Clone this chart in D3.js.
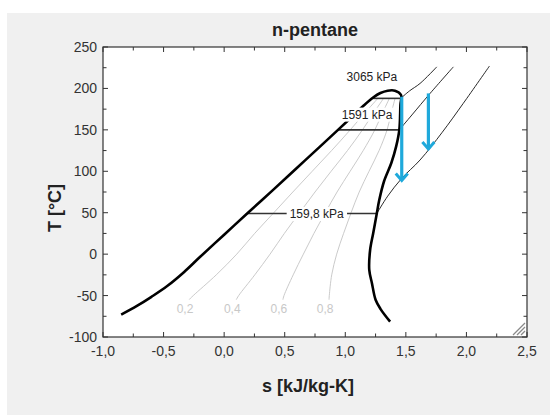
<!DOCTYPE html>
<html><head><meta charset="utf-8">
<script src="https://cdn.jsdelivr.net/npm/d3@7"></script>
<style>body{margin:0;background:#fff;} text{font-family:Arial,"Liberation Sans",sans-serif;}</style>
</head><body><svg id="c" width="550" height="415"></svg>
<script>
// ---------------- data ----------------
const title = "n-pentane";
const xLabel = "s [kJ/kg-K]";
const yLabel = "T [°C]";
const xTickValues = [-1.0, -0.5, 0.0, 0.5, 1.0, 1.5, 2.0, 2.5];
const yTickValues = [-100, -50, 0, 50, 100, 150, 200, 250];

// saturation dome
const satLiquidS = [-0.85, -0.72, -0.6, -0.47, -0.33, -0.2, 0.0, 0.19, 0.4, 0.6, 0.8, 0.94, 1.05, 1.15, 1.23, 1.29, 1.35, 1.41, 1.46];
const satLiquidT = [-73, -62.5, -51.5, -38.5, -21.5, -3.5, 23.5, 49, 77, 104, 131, 150, 165, 179, 189, 194.5, 197.3, 197.3, 192];
const satVaporS = [1.46, 1.455, 1.446, 1.42, 1.38, 1.32, 1.28, 1.26, 1.23, 1.205, 1.198, 1.22, 1.25, 1.29, 1.37];
const satVaporT = [192, 180, 150, 130, 110, 88, 65, 49, 25, 5, -19, -35, -55, -66, -81.5];

// isobars: saturation (horizontal) parts
const isobarNames = ["159,8 kPa", "1591 kPa", "3065 kPa"];
const isobarSatT = [49, 150, 188];
const isobarLiqS = [0.19, 0.94, 1.222];
const isobarVapS = [1.26, 1.446, 1.458];
// isobars: superheated parts
const isobar1598S = [1.26, 1.35, 1.466, 1.617, 1.80, 1.974, 2.19];
const isobar1598T = [49, 70, 91.5, 113.6, 147, 182, 227];
const isobar1591S = [1.446, 1.55, 1.70, 1.892];
const isobar1591T = [150, 168, 194, 226];
const isobar3065S = [1.458, 1.53, 1.617, 1.755];
const isobar3065T = [188, 197, 206, 226];

// quality lines
const qualityLabels = ["0,2", "0,4", "0,6", "0,8"];
const qualityT = [-55, -50, -25, 0, 25, 50, 75, 100, 125, 150, 170, 188];
const quality02S = [-0.29, -0.255, -0.065, 0.104, 0.252, 0.410, 0.567, 0.727, 0.887, 1.041, 1.159, 1.269];
const quality04S = [0.10, 0.120, 0.253, 0.379, 0.497, 0.623, 0.750, 0.883, 1.018, 1.142, 1.232, 1.316];
const quality06S = [0.485, 0.494, 0.570, 0.654, 0.741, 0.835, 0.932, 1.040, 1.148, 1.244, 1.306, 1.364];
const quality08S = [0.866, 0.868, 0.888, 0.929, 0.986, 1.048, 1.115, 1.196, 1.279, 1.345, 1.379, 1.411];

// expansion arrows
const arrowS = [1.466, 1.686];
const arrowTopT = [190, 194];
const arrowEndT = [89, 127];

// ---------------- drawing ----------------
const svg = d3.select("#c");
const L = 103, R = 527, T = 47, B = 337;
const x = d3.scaleLinear().domain([-1, 2.5]).range([L, R]);
const y = d3.scaleLinear().domain([-100, 250]).range([B, T]);

svg.append("rect").attr("x", 7).attr("y", 13).attr("width", 543).attr("height", 402).attr("fill", "#f0f0f0");
svg.append("rect").attr("x", L).attr("y", T).attr("width", R - L).attr("height", B - T).attr("fill", "#fff");

const smooth = d3.line().x(d => x(d[0])).y(d => y(d[1])).curve(d3.curveCatmullRom.alpha(0.5));
const zip = (a, b) => a.map((v, i) => [v, b[i]]);

svg.append("clipPath").attr("id", "clip").append("rect").attr("x", L).attr("y", T).attr("width", R - L).attr("height", B - T);
const plot = svg.append("g").attr("clip-path", "url(#clip)");

// quality lines
const qualityS = [quality02S, quality04S, quality06S, quality08S];
qualityS.forEach((s, i) => {
  plot.append("path").datum(zip(s, qualityT)).attr("d", smooth)
    .attr("fill", "none").attr("stroke", "#c4c4c4").attr("stroke-width", 0.9);
  plot.append("text").attr("x", x(s[0]) - 4).attr("y", y(qualityT[0]) + 13)
    .attr("text-anchor", "middle").attr("font-size", 12).attr("fill", "#c8c8c8").text(qualityLabels[i]);
});

// superheated isobars
[[isobar1598S, isobar1598T], [isobar1591S, isobar1591T], [isobar3065S, isobar3065T]].forEach(([s, t]) => {
  plot.append("path").datum(zip(s, t)).attr("d", smooth)
    .attr("fill", "none").attr("stroke", "#111").attr("stroke-width", 0.9);
});

// saturation isobars (horizontal)
isobarSatT.forEach((t, i) => {
  plot.append("line").attr("x1", x(isobarLiqS[i])).attr("x2", x(isobarVapS[i]))
    .attr("y1", y(t)).attr("y2", y(t)).attr("stroke", "#333").attr("stroke-width", 1.6);
});

// dome
plot.append("path").datum(zip(satLiquidS, satLiquidT).concat(zip(satVaporS, satVaporT).slice(1)))
  .attr("d", smooth)
  .attr("fill", "none").attr("stroke", "#000").attr("stroke-width", 2.6).attr("stroke-linejoin", "round");

// labels with white backgrounds
const labelAnchors = [[0.764, 49], [1.18, 169], [1.22, 214]];
labelAnchors.forEach((a, i) => {
  const g = plot.append("g");
  const tx = g.append("text").attr("x", x(a[0])).attr("y", y(a[1]) + 4.5)
    .attr("text-anchor", "middle").attr("font-size", 12).attr("fill", "#222").text(isobarNames[i]);
  const bb = tx.node().getBBox();
  g.insert("rect", "text").attr("x", bb.x - 3).attr("y", bb.y).attr("width", bb.width + 6).attr("height", bb.height)
    .attr("fill", "#fff");
});

// arrows
const cyan = "#1fa9db";
arrowS.forEach((s, i) => {
  const ax = x(s), y0 = y(arrowTopT[i]), y1 = y(arrowEndT[i]);
  plot.append("line").attr("x1", ax).attr("x2", ax).attr("y1", y0).attr("y2", y1 - 1)
    .attr("stroke", cyan).attr("stroke-width", 3.2);
  plot.append("path").attr("d", `M${ax - 6},${y1 - 7} L${ax},${y1} L${ax + 6},${y1 - 7}`)
    .attr("fill", "none").attr("stroke", cyan).attr("stroke-width", 3).attr("stroke-linejoin", "miter");
});

// ticks (inward, all sides)
const ax = svg.append("g").attr("stroke", "#333").attr("stroke-width", 1);
const xMinor = d3.range(-1, 2.5001, 0.25);
const yMinor = d3.range(-100, 250.001, 25);
xMinor.forEach(v => {
  const major = Math.abs(v * 2 - Math.round(v * 2)) < 1e-6;
  const len = major ? 5 : 3.5;
  ax.append("line").attr("x1", x(v)).attr("x2", x(v)).attr("y1", B).attr("y2", B - len);
  ax.append("line").attr("x1", x(v)).attr("x2", x(v)).attr("y1", T).attr("y2", T + len);
});
yMinor.forEach(v => {
  const major = v % 50 === 0;
  const len = major ? 5 : 3.5;
  ax.append("line").attr("x1", L).attr("x2", L + len).attr("y1", y(v)).attr("y2", y(v));
  ax.append("line").attr("x1", R).attr("x2", R - len).attr("y1", y(v)).attr("y2", y(v));
});
svg.append("rect").attr("x", L).attr("y", T).attr("width", R - L).attr("height", B - T)
  .attr("fill", "none").attr("stroke", "#333").attr("stroke-width", 1.2);

// resize grip
[4, 8, 12].forEach(l => {
  svg.append("line").attr("x1", R - 2 - l).attr("y1", B - 2).attr("x2", R - 2).attr("y2", B - 2 - l)
    .attr("stroke", "#8a8a8a").attr("stroke-width", 1.3);
});

// tick labels
const fmt = v => v.toFixed(1).replace(".", ",");
xTickValues.forEach(v => {
  svg.append("text").attr("x", x(v)).attr("y", B + 19).attr("text-anchor", "middle")
    .attr("font-size", 14).attr("fill", "#333").text(fmt(v));
});
yTickValues.forEach(v => {
  svg.append("text").attr("x", L - 6).attr("y", y(v) + 5).attr("text-anchor", "end")
    .attr("font-size", 14).attr("fill", "#333").text(String(v));
});

// titles
svg.append("text").attr("x", (L + R) / 2).attr("y", 36).attr("text-anchor", "middle")
  .attr("font-size", 18).attr("font-weight", "bold").attr("fill", "#222").text(title);
svg.append("text").attr("x", 308).attr("y", 392).attr("text-anchor", "middle")
  .attr("font-size", 18).attr("font-weight", "bold").attr("fill", "#222").text(xLabel);
svg.append("text").attr("transform", "translate(61,208) rotate(-90)").attr("text-anchor", "middle")
  .attr("font-size", 18).attr("font-weight", "bold").attr("fill", "#222").text(yLabel);
</script></body></html>
